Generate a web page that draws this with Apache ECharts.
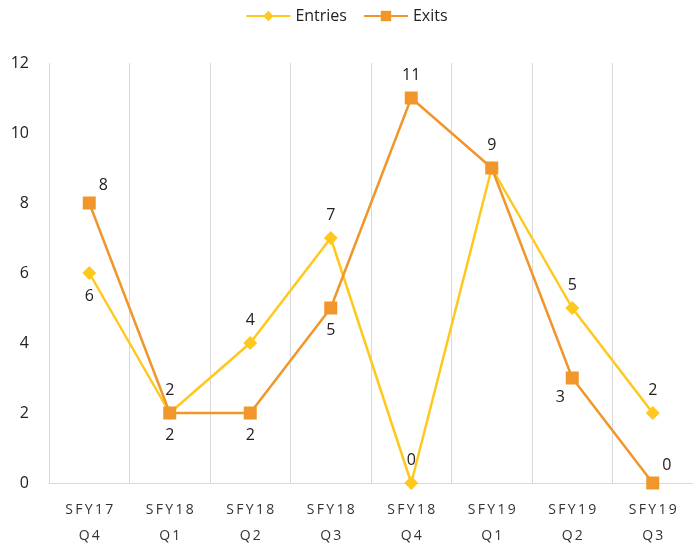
<!DOCTYPE html>
<html><head><meta charset="utf-8">
<script src="https://cdn.jsdelivr.net/npm/echarts@6/dist/echarts.min.js"></script>
<style>html,body{margin:0;padding:0;background:#fff}#c{width:693px;height:546px}</style>
</head><body><div id="c"></div>
<script>
const categories = ["SFY17 Q4","SFY18 Q1","SFY18 Q2","SFY18 Q3","SFY18 Q4","SFY19 Q1","SFY19 Q2","SFY19 Q3"];
const entries = [6,2,4,7,0,9,5,2];
const exits = [8,2,2,5,11,9,3,0];
const yTicks = [0,2,4,6,8,10,12];

const entriesLabelPos = ["bottom","top","top","top","top",null,"top","top"];
const exitsLabelPos = ["tr","bottom","bottom","bottom","top","top","bl","tr"];

function lbl(pos){
  if (pos === null) return {show:false};
  if (pos === "tr") return {show:true, position:"top", offset:[14,2]};
  if (pos === "bl") return {show:true, position:"bottom", offset:[-12,0]};
  return {show:true, position:pos, distance:8};
}
const labelStyle = {fontSize:16, color:"#222", fontFamily:"Open Sans"};

const chart = echarts.init(document.getElementById('c'));
chart.setOption({
  animation:false,
  legend:{top:3, left:'center', itemWidth:44, itemHeight:13, itemGap:16,
    textStyle:{fontSize:16, color:'#222', fontFamily:'Open Sans'},
    data:['Entries','Exits']},
  grid:{left:49, right:0, top:63, bottom:63, containLabel:false, outerBoundsMode:'none'},
  xAxis:{type:'category', data:categories, boundaryGap:true,
    axisLine:{lineStyle:{color:'#d9d9d9'}}, axisTick:{show:false},
    splitLine:{show:true, lineStyle:{color:'#d9d9d9'}},
    axisLabel:{interval:0, margin:14, lineHeight:26, fontSize:14, color:'#333', fontFamily:'Open Sans',
      formatter:v=>v.split(' ').map(s=>s.split('').join('\u2009')).join('\n')}},
  yAxis:{type:'value', min:yTicks[0], max:yTicks[yTicks.length-1], interval:2,
    axisLine:{show:false}, axisTick:{show:false}, splitLine:{show:false},
    axisLabel:{fontSize:16, color:'#222', margin:20, fontFamily:'Open Sans'}},
  series:[
    {name:'Entries', type:'line', color:'#FFC81E', symbol:'diamond', symbolSize:14,
      lineStyle:{width:2.5},
      data:entries.map((v,i)=>({value:v, label:Object.assign(lbl(entriesLabelPos[i]), labelStyle)}))},
    {name:'Exits', type:'line', color:'#F0962A', symbol:'rect', symbolSize:13,
      lineStyle:{width:2.5},
      data:exits.map((v,i)=>({value:v, label:Object.assign(lbl(exitsLabelPos[i]), labelStyle)}))}
  ]
});
</script></body></html>
